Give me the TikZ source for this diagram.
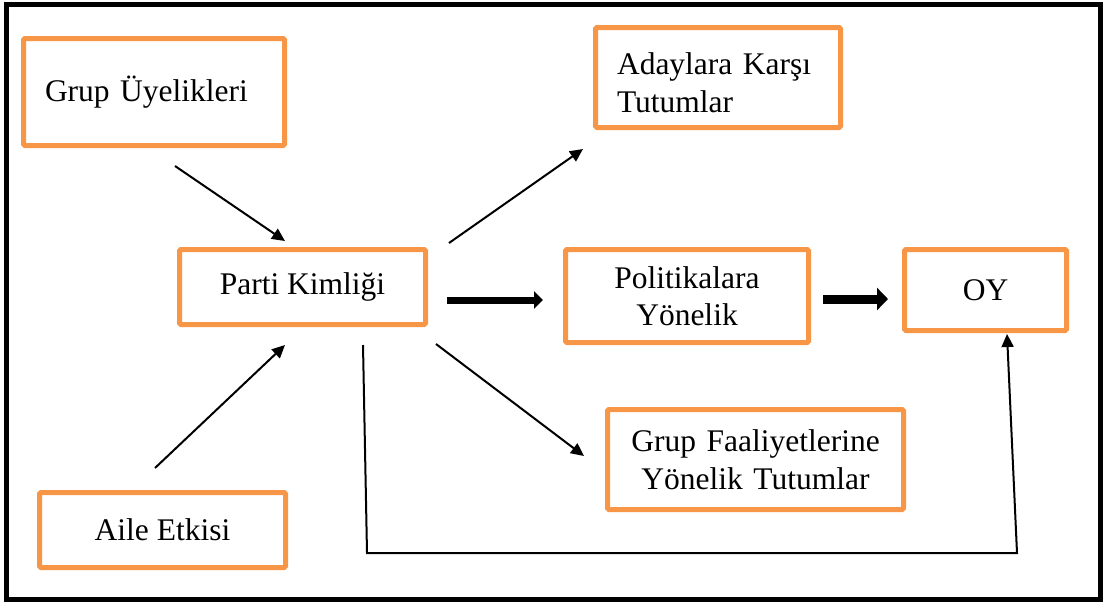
\documentclass[tikz,border=0pt]{standalone}
\usepackage{fontspec}
\setmainfont{Liberation Serif}
\usetikzlibrary{arrows.meta}
\definecolor{boxorange}{HTML}{F79646}
\begin{document}
\begin{tikzpicture}[x=1pt,y=-1pt,
  obox/.style={draw=boxorange, line width=5pt, rounded corners=1.5pt,
    font=\fontsize{31.5}{37.5}\selectfont, inner ysep=0pt},
  thin/.style={line width=2pt, -{Triangle[length=13pt,width=12pt]}},
  thick1/.style={line width=7pt, -{Triangle[length=9pt,width=17pt]}},
  thick2/.style={line width=9pt, -{Triangle[length=11pt,width=22pt]}}]
\useasboundingbox (0,0) rectangle (1105,603);
\draw[line width=5pt] (6,4) rectangle (1100,599);

\node[obox, text width=218pt, inner xsep=21.5pt, align=left, minimum height=107pt] (gu) at (154,92) {Grup Üyelikleri};
\node[obox, text width=202pt, inner xsep=21.5pt, align=left, minimum height=100pt] (ad) at (718,77.5) {\rule{0pt}{32pt}Adaylara Karşı\\Tutumlar};
\node[obox, minimum width=246pt, minimum height=75pt, inner xsep=0pt] (pk) at (302.5,287) {Parti Kimliği};
\node[obox, text width=243pt, inner xsep=0pt, align=center, minimum height=93pt] (po) at (687,296) {Politikalara\\Yönelik};
\node[obox, minimum width=162pt, minimum height=81pt, inner xsep=0pt] (oy) at (985.5,290) {OY};
\node[obox, text width=296pt, inner xsep=0pt, align=center, minimum height=100pt] (gf) at (755.5,459.5) {Grup Faaliyetlerine\\Yönelik Tutumlar};
\node[obox, minimum width=246pt, minimum height=75pt, inner xsep=0pt] (ae) at (162.5,530) {Aile Etkisi};

\coordinate (guout) at (175,166);
\coordinate (pkin1) at (285,241);
\coordinate (aeout) at (155,468);
\coordinate (pkin2) at (285,345);
\coordinate (pkout1) at (449,243);
\coordinate (adin) at (583,149);
\coordinate (pkout2) at (447,300);
\coordinate (poin) at (543,300);
\coordinate (pkout3) at (436,344);
\coordinate (gfin) at (584,456);
\coordinate (poout) at (823,299);
\coordinate (oyin) at (888,299);
\coordinate (pkout4) at (363,345);
\coordinate (c1) at (367,553);
\coordinate (c2) at (1017,553);
\coordinate (oyin2) at (1007,334);

\draw[thin] (guout) -- (pkin1);
\draw[thin] (aeout) -- (pkin2);
\draw[thin] (pkout1) -- (adin);
\draw[thin] (pkout3) -- (gfin);
\draw[thick1] (pkout2) -- (poin);
\draw[thick2] (poout) -- (oyin);
\draw[thin, line join=miter] (pkout4) -- (c1) -- (c2) -- (oyin2);
\end{tikzpicture}
\end{document}
